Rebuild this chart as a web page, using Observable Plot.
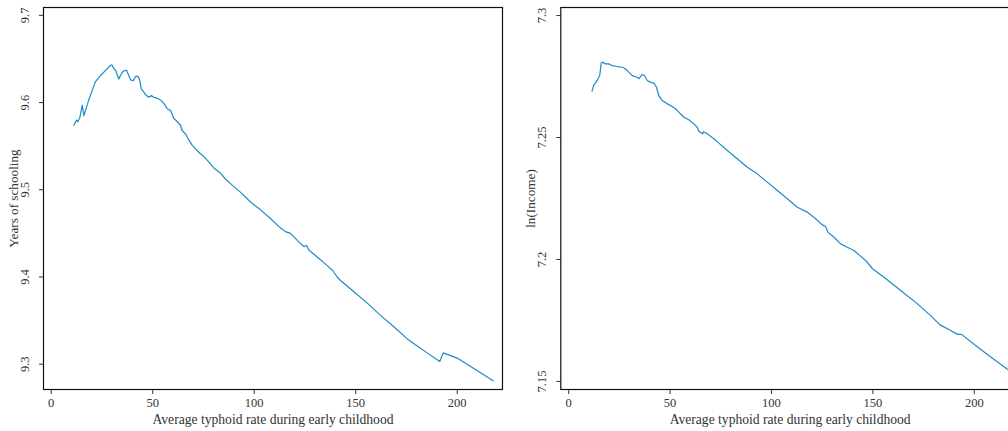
<!DOCTYPE html>
<html>
<head>
<meta charset="utf-8">
<script src="https://cdn.jsdelivr.net/npm/d3@7"></script>
<script src="https://cdn.jsdelivr.net/npm/@observablehq/plot@0.6"></script>
<style>
  html, body { margin: 0; padding: 0; background: #fff; overflow: hidden; }
  #wrap { position: relative; width: 1008px; height: 431px; overflow: hidden; }
  #left { position: absolute; left: 0; top: 0; width: 510px; }
  #right { position: absolute; left: 510px; top: 0; width: 517px; }
  #wrap svg { max-width: none !important; }
</style>
</head>
<body>
<div id="wrap"><div id="left"></div><div id="right"></div></div>
<script>
// ---- data ----
const xTitle = "Average typhoid rate during early childhood";
const leftTitle = "Years of schooling";
const rightTitle = "ln(Income)";
const xTicks = [0, 50, 100, 150, 200];
const leftYTicks = [9.3, 9.4, 9.5, 9.6, 9.7];
const rightYTicks = [7.15, 7.2, 7.25, 7.3];

const leftX = [11.1, 12.5, 13.1, 14.1, 15.3, 16.1, 16.9, 18.5, 20.2, 21.8, 24.3, 26.8, 29.3, 30.0, 30.8, 31.7, 33.3, 34.1, 35.5, 37.1, 38.2, 39.1, 40.4, 41.5, 42.7, 43.6, 44.3, 45.6, 46.9, 48.1, 49.3, 50.5, 52.2, 53.8, 55.5, 57.1, 58.8, 60.4, 62.1, 63.7, 64.5, 66.2, 67.8, 69.5, 71.1, 72.7, 75.2, 77.6, 80.1, 83.4, 85.9, 88.3, 93.3, 98.2, 103.1, 108.0, 112.1, 115.4, 117.9, 121.2, 124.4, 125.8, 126.9, 131.0, 136.0, 138.4, 140.9, 142.5, 149.1, 155.7, 162.2, 168.8, 175.4, 180.3, 185.2, 191.4, 193.1, 200.0, 208.2, 217.7];
const leftY = [9.574, 9.580, 9.578, 9.583, 9.597, 9.585, 9.591, 9.603, 9.614, 9.624, 9.631, 9.637, 9.643, 9.643, 9.639, 9.637, 9.627, 9.631, 9.636, 9.637, 9.631, 9.626, 9.625, 9.630, 9.630, 9.626, 9.616, 9.612, 9.608, 9.606, 9.608, 9.606, 9.605, 9.603, 9.599, 9.593, 9.591, 9.582, 9.578, 9.574, 9.568, 9.564, 9.557, 9.551, 9.547, 9.543, 9.538, 9.532, 9.525, 9.519, 9.512, 9.507, 9.497, 9.486, 9.477, 9.467, 9.458, 9.452, 9.450, 9.442, 9.435, 9.436, 9.431, 9.423, 9.413, 9.408, 9.400, 9.396, 9.383, 9.370, 9.356, 9.343, 9.329, 9.321, 9.313, 9.303, 9.313, 9.307, 9.295, 9.281];

const rightX = [11.5, 12.3, 14.0, 15.3, 16.0, 16.5, 18.1, 19.7, 21.4, 23.9, 26.4, 28.0, 29.6, 31.3, 33.8, 34.6, 36.2, 37.4, 38.7, 40.3, 42.0, 43.3, 44.4, 46.1, 48.6, 50.2, 52.7, 54.3, 56.8, 59.2, 61.7, 63.4, 64.2, 66.0, 66.6, 68.3, 71.6, 74.9, 78.2, 83.1, 88.1, 93.0, 97.9, 102.9, 107.8, 112.7, 117.7, 121.8, 125.1, 126.7, 127.8, 130.8, 134.1, 137.4, 140.7, 143.6, 146.4, 149.8, 155.5, 163.7, 172.0, 178.5, 183.1, 188.4, 191.7, 193.7, 201.6, 208.1, 216.7, 217.7];
const rightY = [7.2690, 7.2713, 7.2734, 7.2754, 7.2805, 7.2809, 7.2802, 7.2802, 7.2795, 7.2791, 7.2788, 7.2782, 7.2768, 7.2754, 7.2747, 7.2741, 7.2758, 7.2754, 7.2734, 7.2727, 7.2723, 7.2706, 7.2672, 7.2652, 7.2638, 7.2631, 7.2618, 7.2604, 7.2583, 7.2573, 7.2556, 7.2542, 7.2526, 7.2515, 7.2524, 7.2515, 7.2495, 7.2471, 7.2447, 7.2413, 7.2378, 7.2351, 7.2317, 7.2283, 7.2249, 7.2214, 7.2194, 7.2167, 7.2142, 7.2135, 7.2112, 7.2091, 7.2064, 7.2050, 7.2037, 7.2016, 7.1996, 7.1962, 7.1927, 7.1873, 7.1818, 7.1770, 7.1732, 7.1709, 7.1693, 7.1693, 7.1641, 7.1600, 7.1548, 7.1543];

// ---- styles ----
const lineColor = "#1a8cc4";
const fontFamily = "'Liberation Serif', 'DejaVu Serif', serif";
const textColor = "#333";

function panel({xs, ys, yTicks, yDomain, xDomain, width, marginLeft, yTitle}) {
  const data = xs.map((x, i) => ({x, y: ys[i]}));
  return Plot.plot({
    width,
    height: 431,
    marginLeft,
    marginRight: 8,
    marginTop: 7,
    marginBottom: 42,
    style: {fontFamily, fontSize: "12.5px", color: textColor, background: "white", overflow: "visible", maxWidth: "none"},
    x: {domain: xDomain},
    y: {domain: yDomain},
    marks: [
      Plot.axisX({ticks: xTicks, tickSize: 5, tickPadding: 4, label: null, fontSize: 12.5}),
      Plot.axisY({ticks: yTicks, tickSize: 4, tickPadding: 11, tickRotate: -90, label: null, fontSize: 12.5,
        tickFormat: d => String(d)}),
      Plot.text([xTitle], {frameAnchor: "bottom", dy: 34, textAnchor: "middle", text: d => d, fill: textColor, fontSize: 13.6}),
      Plot.text([yTitle], {frameAnchor: "left", dx: -30, rotate: -90, textAnchor: "middle", text: d => d, fill: textColor, fontSize: 13.2}),
      Plot.line(data, {x: "x", y: "y", stroke: lineColor, strokeWidth: 1.2}),
      Plot.frame({stroke: "#111", strokeWidth: 1.2})
    ]
  });
}

document.getElementById("left").appendChild(panel({
  xs: leftX, ys: leftY, yTicks: leftYTicks,
  yDomain: [9.271, 9.709], xDomain: [-3.8, 222.3],
  width: 510, marginLeft: 43, yTitle: leftTitle
}));

document.getElementById("right").appendChild(panel({
  xs: rightX, ys: rightY, yTicks: rightYTicks,
  yDomain: [7.1467, 7.3033], xDomain: [-3.9, 222.3],
  width: 517, marginLeft: 50.3, yTitle: rightTitle
}));
</script>
</body>
</html>
